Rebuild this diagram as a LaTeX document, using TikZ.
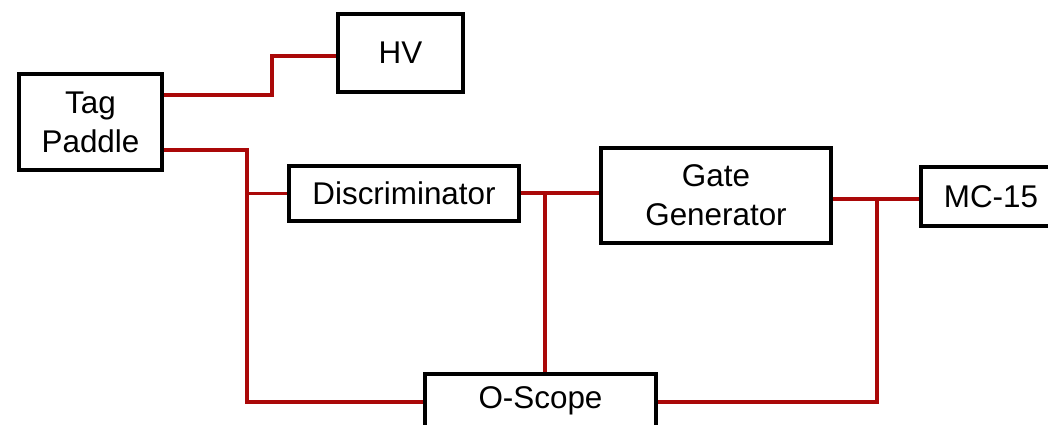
\documentclass[tikz,border=0pt]{standalone}
\usepackage{fontspec}
\setmainfont{Liberation Sans}
\definecolor{wirered}{RGB}{170,8,8}
\begin{document}
\begin{tikzpicture}[x=0.5pt,y=-0.5pt,
  box/.style={draw=black, line width=1.7pt, fill=white, inner sep=0pt, align=center,
    font=\fontsize{15.7}{19.5}\selectfont},
  wire/.style={draw=wirered, line width=1.8pt}]
\useasboundingbox (0,0) rectangle (1048,424);
\clip (0,0) rectangle (1048,424);
\fill[white] (0,0) rectangle (1048,424);
% coordinates
\coordinate (b1) at (272,95);
\coordinate (b2) at (272,56);
\coordinate (c1) at (247,150);
\coordinate (c2) at (247,402);
\coordinate (j1) at (545,193);
\coordinate (j2) at (877,199);
\coordinate (j3) at (877,402);
% boxes
\node[box, minimum width=71.5pt, minimum height=48pt] (tp) at (90.5,122) {Tag\\Paddle};
\node[box, minimum width=62.5pt, minimum height=39pt] (hv) at (400.5,53) {HV};
\node[box, minimum width=115pt, minimum height=27.5pt] (disc) at (404,193.5) {Discriminator};
\node[box, minimum width=115pt, minimum height=47.5pt] (gg) at (716,195.5) {Gate\\Generator};
\node[box, minimum width=70pt, minimum height=29.5pt] (mc) at (991,196.5) {MC-15};
\node[box, minimum width=115.5pt, minimum height=27pt] (os) at (540.5,401) {O-Scope};
% wires
\draw[wire] (tp.east |- b1) -- (b1) -- (b2) -- (hv.west |- b2);
\draw[wire] (tp.east |- c1) -- (c1) -- (c2) -- (os.west |- c2);
\draw[wire] (c1 |- disc.west) -- (disc.west);
\draw[wire] (disc.east |- j1) -- (gg.west |- j1);
\draw[wire] (j1) -- (j1 |- os.north);
\draw[wire] (gg.east |- j2) -- (mc.west |- j2);
\draw[wire] (j2) -- (j3) -- (os.east |- j3);
\end{tikzpicture}
\end{document}
